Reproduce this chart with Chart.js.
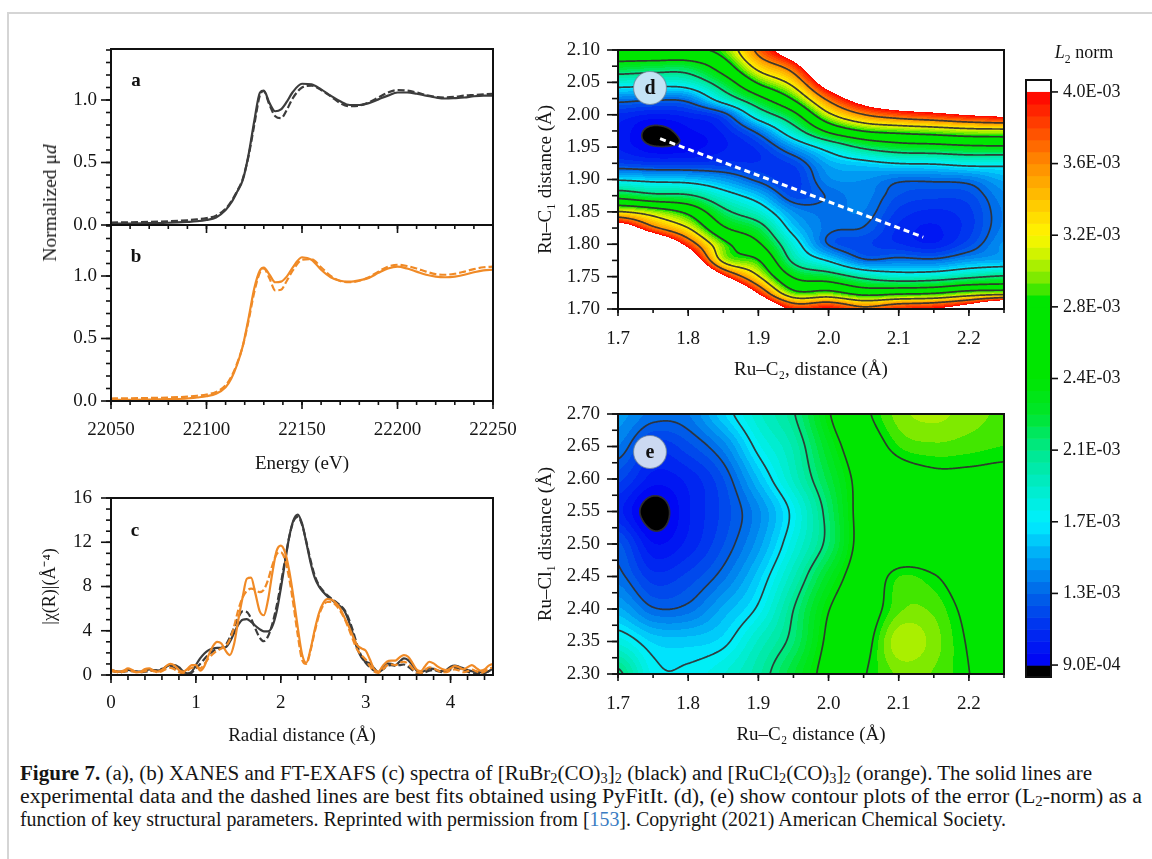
<!DOCTYPE html>
<html>
<head>
<meta charset="utf-8">
<script src="https://cdn.jsdelivr.net/npm/chart.js@4.4.1/dist/chart.umd.min.js"></script>
<style>
  html, body { margin: 0; padding: 0; background: #fff; }
  #fig { position: relative; width: 1152px; height: 859px; overflow: hidden;
         font-family: 'Liberation Serif', 'Times New Roman', serif; color: #151515; }
  #fig canvas { position: absolute; }
  .frame { position: absolute; left: 7px; top: 12px; right: -3px; bottom: -3px;
           border-left: 2px solid #d5d5d5; border-top: 2px solid #d5d5d5; }
  .ytitle { position: absolute; font-size: 19.5px; white-space: nowrap;
            transform: translate(-50%, -50%) rotate(-90deg); }
  .cbtitle { position: absolute; font-size: 18px; white-space: nowrap; transform: translate(-50%, -50%); }
  .cbtitle sub { font-size: 0.65em; }
  #caption { position: absolute; left: 20px; top: 762px; font-size: 20px; line-height: 23px; white-space: nowrap; }
  #caption > div { transform-origin: 0 0; }
  #caption sub { font-size: 0.68em; vertical-align: -0.25em; line-height: 0; }
  .ref { color: #3a7cc2; }
</style>
</head>
<body>
<div id="fig">
  <div class="frame"></div>
  <canvas id="cA" width="540" height="236" style="left:0;top:19px"></canvas>
  <canvas id="cB" width="540" height="284" style="left:0;top:195px"></canvas>
  <canvas id="cC" width="505" height="288" style="left:35px;top:463px"></canvas>
  <canvas id="cD" width="478" height="370" style="left:531px;top:15px"></canvas>
  <canvas id="cE" width="478" height="371" style="left:531px;top:379px"></canvas>
  <canvas id="cBar" width="134" height="657" style="left:1016px;top:50px"></canvas>
  <div class="ytitle" style="left:50px;top:203px">Normalized μ<i>d</i></div>
  <div class="cbtitle" style="left:1084px;top:54px"><i>L</i><sub>2</sub> norm</div>
  <div id="caption">
    <div data-w="1072"><b>Figure 7.</b> (a), (b) XANES and FT-EXAFS (c) spectra of [RuBr<sub>2</sub>(CO)<sub>3</sub>]<sub>2</sub> (black) and [RuCl<sub>2</sub>(CO)<sub>3</sub>]<sub>2</sub> (orange). The solid lines are</div>
    <div data-w="1122">experimental data and the dashed lines are best fits obtained using PyFitIt. (d), (e) show contour plots of the error (L<sub>2</sub>-norm) as a</div>
    <div data-w="986">function of key structural parameters. Reprinted with permission from [<span class="ref">153</span>]. Copyright (2021) American Chemical Society.</div>
  </div>
</div>
<script>
// XANES, panels a and b
const energy = [22050, 22060, 22070, 22080, 22090, 22095, 22100, 22105, 22110, 22113, 22116, 22119, 22122, 22125,
  22128, 22130, 22133, 22136, 22139, 22142, 22145, 22150, 22155, 22160, 22165, 22170, 22175, 22180, 22185, 22190,
  22195, 22200, 22205, 22210, 22215, 22220, 22225, 22230, 22235, 22240, 22245, 22250];
const muBrExp = [0.010, 0.012, 0.015, 0.018, 0.025, 0.030, 0.040, 0.060, 0.120, 0.180, 0.265, 0.360, 0.560, 0.830,
  1.060, 1.075, 0.975, 0.910, 0.925, 0.985, 1.060, 1.130, 1.125, 1.085, 1.035, 0.990, 0.960, 0.960, 0.975, 1.005,
  1.035, 1.060, 1.060, 1.050, 1.035, 1.020, 1.012, 1.015, 1.020, 1.030, 1.035, 1.035];
const muBrFit = [0.020, 0.022, 0.025, 0.030, 0.038, 0.045, 0.055, 0.075, 0.130, 0.190, 0.270, 0.370, 0.550, 0.800,
  1.040, 1.070, 0.960, 0.870, 0.855, 0.920, 1.010, 1.100, 1.115, 1.080, 1.030, 0.975, 0.950, 0.955, 0.980, 1.020,
  1.060, 1.080, 1.075, 1.060, 1.040, 1.025, 1.020, 1.025, 1.035, 1.040, 1.045, 1.050];
const muClExp = [0.010, 0.010, 0.012, 0.015, 0.020, 0.028, 0.038, 0.058, 0.110, 0.180, 0.290, 0.440, 0.660, 0.900,
  1.045, 1.068, 1.010, 0.950, 0.955, 0.995, 1.065, 1.150, 1.130, 1.050, 0.990, 0.962, 0.955, 0.965, 0.985, 1.025,
  1.060, 1.075, 1.060, 1.035, 1.010, 0.995, 0.990, 0.995, 1.010, 1.030, 1.045, 1.050];
const muClFit = [0.020, 0.022, 0.024, 0.028, 0.035, 0.042, 0.052, 0.072, 0.125, 0.195, 0.300, 0.440, 0.640, 0.870,
  1.030, 1.060, 0.980, 0.885, 0.890, 0.960, 1.040, 1.130, 1.135, 1.070, 1.000, 0.960, 0.950, 0.962, 0.990, 1.035,
  1.075, 1.090, 1.080, 1.060, 1.035, 1.015, 1.010, 1.018, 1.035, 1.055, 1.070, 1.075];
const energyTicks = [22050, 22100, 22150, 22200, 22250];
const muTicks = [0, 0.5, 1.0];

// FT-EXAFS, panel c
const radial = [0, 0.05, 0.1, 0.15, 0.2, 0.25, 0.3, 0.35, 0.4, 0.45, 0.5, 0.55, 0.6, 0.65, 0.7, 0.75, 0.8, 0.85,
  0.9, 0.95, 1, 1.05, 1.1, 1.15, 1.2, 1.25, 1.3, 1.35, 1.4, 1.45, 1.5, 1.55, 1.6, 1.65, 1.7, 1.75, 1.8, 1.85, 1.9,
  1.95, 2, 2.05, 2.1, 2.15, 2.2, 2.25, 2.3, 2.35, 2.4, 2.45, 2.5, 2.55, 2.6, 2.65, 2.7, 2.75, 2.8, 2.85, 2.9, 2.95,
  3, 3.05, 3.1, 3.15, 3.2, 3.25, 3.3, 3.35, 3.4, 3.45, 3.5, 3.55, 3.6, 3.65, 3.7, 3.75, 3.8, 3.85, 3.9, 3.95, 4,
  4.05, 4.1, 4.15, 4.2, 4.25, 4.3, 4.35, 4.4, 4.45, 4.5];
const ftBrExp = [0.45, 0.35, 0.30, 0.35, 0.45, 0.40, 0.30, 0.30, 0.40, 0.50,
  0.45, 0.40, 0.50, 0.75, 0.90, 0.90, 0.70, 0.35, 0.15, 0.30,
  0.90, 1.50, 1.95, 2.25, 2.40, 2.45, 2.45, 2.50, 3.00, 3.80,
  4.55, 5.00, 5.05, 4.80, 4.45, 4.15, 3.95, 3.95, 4.40, 5.70,
  7.80, 10.20, 12.50, 14.00, 14.50, 13.70, 12.00, 10.20, 8.80, 8.00,
  7.50, 7.10, 6.80, 6.50, 6.20, 5.80, 4.90, 3.70, 2.40, 1.60,
  1.20, 1.05, 0.60, 0.25, 0.70, 1.05, 1.00, 0.90, 1.20, 1.50,
  1.35, 0.90, 0.40, 0.25, 0.40, 0.60, 0.55, 0.40, 0.35, 0.45,
  0.75, 0.85, 0.75, 0.60, 0.45, 0.35, 0.30, 0.25, 0.20, 0.35, 0.60];
const ftBrFit = [0.40, 0.30, 0.25, 0.30, 0.35, 0.35, 0.30, 0.25, 0.30, 0.35,
  0.40, 0.45, 0.55, 0.70, 0.75, 0.60, 0.35, 0.10, 0.05, 0.20,
  0.60, 1.00, 1.45, 1.85, 2.15, 2.35, 2.45, 2.70, 3.40, 4.30,
  5.20, 5.75, 5.70, 5.10, 4.20, 3.40, 3.05, 3.50, 4.60, 6.20,
  8.20, 10.40, 12.50, 13.90, 14.30, 13.60, 12.10, 10.40, 9.00, 8.10,
  7.60, 7.20, 6.90, 6.60, 6.30, 5.90, 5.10, 4.00, 2.70, 1.70,
  1.10, 0.70, 0.40, 0.25, 0.50, 0.80, 0.90, 0.85, 0.90, 0.95,
  0.75, 0.45, 0.20, 0.15, 0.25, 0.40, 0.45, 0.35, 0.25, 0.30,
  0.50, 0.65, 0.60, 0.45, 0.30, 0.20, 0.15, 0.15, 0.20, 0.35, 0.50];
const ftClExp = [0.50, 0.35, 0.30, 0.40, 0.60, 0.45, 0.25, 0.30, 0.55, 0.60,
  0.40, 0.30, 0.45, 0.80, 1.00, 0.85, 0.45, 0.30, 0.55, 0.90,
  0.90, 0.40, 0.80, 1.80, 2.60, 3.00, 2.85, 2.20, 1.80, 2.80,
  5.00, 7.00, 8.70, 8.80, 7.40, 5.80, 5.40, 6.80, 9.20, 11.20,
  11.70, 11.10, 9.40, 7.00, 4.30, 1.90, 1.10, 2.30, 4.10, 5.60,
  6.50, 6.85, 6.80, 6.50, 6.00, 5.20, 4.40, 3.50, 2.70, 2.40,
  2.20, 1.40, 0.50, 0.30, 0.80, 1.20, 1.30, 1.30, 1.60, 1.80,
  1.65, 1.10, 0.50, 0.35, 0.80, 1.20, 1.05, 0.75, 0.55, 0.45,
  0.60, 0.80, 0.70, 0.50, 0.70, 0.90, 0.65, 0.40, 0.50, 0.85, 1.00];
const ftClFit = [0.35, 0.30, 0.25, 0.30, 0.40, 0.35, 0.25, 0.25, 0.35, 0.45,
  0.35, 0.25, 0.35, 0.55, 0.65, 0.50, 0.25, 0.20, 0.40, 0.65,
  0.70, 0.60, 1.00, 1.50, 1.90, 2.20, 2.40, 2.60, 3.20, 4.40,
  5.90, 7.00, 7.60, 7.80, 7.70, 7.50, 7.70, 8.60, 9.90, 10.90,
  11.10, 10.40, 8.70, 6.30, 3.60, 1.40, 1.00, 2.20, 3.90, 5.40,
  6.30, 6.60, 6.60, 6.30, 5.80, 5.10, 4.20, 3.20, 2.30, 1.80,
  1.40, 0.80, 0.30, 0.20, 0.50, 0.85, 0.95, 0.90, 1.10, 1.20,
  1.00, 0.60, 0.25, 0.20, 0.45, 0.70, 0.60, 0.40, 0.25, 0.25,
  0.40, 0.50, 0.40, 0.25, 0.35, 0.50, 0.35, 0.20, 0.30, 0.55, 0.70];
const radialTicks = [0, 1, 2, 3, 4];
const chiTicks = [0, 4, 8, 12, 16];

// L2-norm maps (units of 1e-3); rows run from the top (largest y) down
const dRuC2 = [1.70, 1.75, 1.80, 1.85, 1.90, 1.95, 2.00, 2.05, 2.10, 2.15, 2.20, 2.25];
const dRuC1 = [2.100, 2.075, 2.050, 2.025, 2.000, 1.975, 1.950, 1.925, 1.900, 1.875, 1.850, 1.825, 1.800,
  1.775, 1.750, 1.725, 1.700];
const dNorm = [
  [2.75, 2.80, 2.80, 2.95, 3.70, 4.40, 5.60, 6.00, 6.20, 6.30, 6.40, 6.50],
  [2.30, 2.25, 2.25, 2.65, 3.35, 3.82, 4.90, 5.40, 5.60, 5.70, 5.80, 5.90],
  [1.82, 1.80, 1.85, 2.25, 2.88, 3.35, 4.30, 4.80, 5.00, 5.10, 5.20, 5.30],
  [1.37, 1.33, 1.37, 1.85, 2.35, 2.88, 3.70, 4.25, 4.50, 4.55, 4.65, 4.70],
  [1.08, 1.02, 1.06, 1.22, 1.85, 2.35, 3.15, 3.60, 3.80, 3.90, 4.02, 4.10],
  [1.02, 0.87, 0.95, 1.05, 1.35, 1.90, 2.52, 2.85, 2.95, 3.02, 3.10, 3.12],
  [1.02, 0.91, 0.93, 1.02, 1.12, 1.45, 1.80, 2.12, 2.28, 2.32, 2.38, 2.40],
  [1.16, 1.12, 1.12, 1.12, 1.10, 1.18, 1.50, 1.60, 1.68, 1.70, 1.76, 1.75],
  [1.65, 1.60, 1.57, 1.45, 1.25, 1.12, 1.40, 1.42, 1.32, 1.32, 1.35, 1.50],
  [2.30, 2.15, 2.10, 1.80, 1.55, 1.20, 1.30, 1.38, 1.22, 1.18, 1.20, 1.40],
  [3.25, 3.05, 2.75, 2.15, 1.85, 1.42, 1.33, 1.35, 1.14, 1.08, 1.14, 1.36],
  [4.40, 3.70, 3.23, 2.50, 2.20, 1.58, 1.32, 1.28, 1.08, 1.02, 1.13, 1.37],
  [5.50, 4.80, 3.85, 2.95, 2.50, 1.80, 1.28, 1.18, 1.10, 1.04, 1.20, 1.43],
  [6.50, 5.80, 4.60, 3.15, 2.85, 2.00, 1.65, 1.32, 1.35, 1.33, 1.45, 1.50],
  [7.50, 6.80, 5.50, 4.10, 3.25, 2.42, 2.25, 1.98, 1.85, 1.88, 2.00, 2.10],
  [8.50, 7.80, 6.50, 5.20, 3.95, 2.95, 2.95, 2.70, 2.75, 2.80, 2.98, 3.05],
  [9.50, 8.80, 7.50, 6.30, 4.80, 3.90, 4.00, 3.70, 3.90, 4.00, 4.30, 5.00]
];
const eRuC2 = [1.70, 1.75, 1.80, 1.85, 1.90, 1.95, 2.00, 2.05, 2.10, 2.15, 2.20, 2.25];
const eRuCl1 = [2.70, 2.65, 2.60, 2.55, 2.50, 2.45, 2.40, 2.35, 2.30];
const eNorm = [
  [1.45, 1.33, 1.35, 1.60, 1.85, 2.05, 2.43, 2.78, 3.00, 3.05, 3.00, 2.95],
  [1.35, 1.12, 1.20, 1.38, 1.72, 1.95, 2.32, 2.65, 2.90, 2.95, 2.93, 2.90],
  [1.18, 1.00, 1.05, 1.22, 1.55, 1.88, 2.22, 2.55, 2.70, 2.78, 2.78, 2.76],
  [1.05, 0.84, 1.02, 1.18, 1.40, 1.72, 2.13, 2.55, 2.62, 2.65, 2.66, 2.66],
  [1.24, 0.97, 1.05, 1.22, 1.45, 1.78, 2.12, 2.55, 2.62, 2.65, 2.65, 2.64],
  [1.32, 1.12, 1.18, 1.33, 1.58, 1.92, 2.30, 2.62, 2.90, 2.85, 2.70, 2.65],
  [1.50, 1.30, 1.32, 1.50, 1.70, 2.06, 2.44, 2.68, 2.95, 2.95, 2.78, 2.68],
  [1.78, 1.60, 1.58, 1.64, 1.88, 2.12, 2.50, 2.75, 3.08, 3.00, 2.82, 2.70],
  [2.10, 1.72, 1.70, 1.80, 1.98, 2.25, 2.55, 2.82, 2.98, 2.96, 2.84, 2.72]
];
// path between the two minima in panel d
const pathC2 = [1.76, 2.135];
const pathC1 = [1.963, 1.811];

const mapXTicks = [1.7, 1.8, 1.9, 2.0, 2.1, 2.2];
const dYTicks = [1.70, 1.75, 1.80, 1.85, 1.90, 1.95, 2.00, 2.05, 2.10];
const eYTicks = [2.30, 2.35, 2.40, 2.45, 2.50, 2.55, 2.60, 2.65, 2.70];

// colour scale: evenly spaced levels and their printed labels
const normLevels = [0.9, 1.2875, 1.675, 2.0625, 2.45, 2.8375, 3.225, 3.6125, 4.0];
const normLabels = ['9.0E-04', '1.3E-03', '1.7E-03', '2.1E-03', '2.4E-03', '2.8E-03', '3.2E-03', '3.6E-03', '4.0E-03'];

const SERIF = "'Liberation Serif', 'Times New Roman', serif";
const BLACK = '#3c3c3c';
const ORANGE = '#f08a26';
Chart.defaults.font.family = SERIF;
Chart.defaults.color = '#151515';

// rainbow stops in level-index units (0 = lowest level, 8 = highest)
const rainbow = [
  [0, [0, 0, 245]], [0.5, [0, 45, 240]], [1, [0, 100, 232]], [1.5, [0, 165, 245]], [2, [0, 240, 255]],
  [2.5, [0, 236, 200]], [3, [0, 232, 140]], [3.5, [0, 230, 45]], [4, [0, 230, 0]], [5.1, [0, 230, 0]],
  [5.35, [110, 232, 0]], [5.7, [200, 242, 0]], [6, [255, 248, 0]], [6.5, [255, 195, 0]], [7, [255, 140, 0]],
  [7.5, [255, 72, 0]], [8, [255, 0, 0]]
];
function rainbowAt(t) {
  for (let k = 1; k < rainbow.length; k++) {
    if (t <= rainbow[k][0]) {
      const [t0, c0] = rainbow[k - 1], [t1, c1] = rainbow[k];
      const f = (t - t0) / (t1 - t0);
      return c0.map((c, i) => Math.round(c + f * (c1[i] - c)));
    }
  }
  return rainbow[rainbow.length - 1][1];
}
const BANDS = 6;
function normColor(v) {
  const t = (v - normLevels[0]) / (normLevels[1] - normLevels[0]);
  if (t < 0) return [0, 0, 0];
  if (t > normLevels.length - 1) return [255, 255, 255];
  return rainbowAt(Math.min(Math.floor(t * BANDS) / BANDS + 0.5 / BANDS, 7.99));
}

// smooth surface through the grid nodes (Catmull-Rom)
function cr(p0, p1, p2, p3, t) {
  return p1 + 0.5 * t * (p2 - p0 + t * (2 * p0 - 5 * p1 + 4 * p2 - p3 + t * (3 * (p1 - p2) + p3 - p0)));
}
function surface(m, xv, yv) {
  const nx = m.xs.length, ny = m.ys.length;
  const fx = (xv - m.xs[0]) / (m.xs[1] - m.xs[0]);
  const fy = (m.ys[0] - yv) / (m.ys[0] - m.ys[1]);
  const i = Math.max(0, Math.min(nx - 2, Math.floor(fx)));
  const j = Math.max(0, Math.min(ny - 2, Math.floor(fy)));
  const tx = fx - i, ty = fy - j;
  const at = (r, c) => m.z[Math.max(0, Math.min(ny - 1, r))][Math.max(0, Math.min(nx - 1, c))];
  const row = r => cr(at(r, i - 1), at(r, i), at(r, i + 1), at(r, i + 2), tx);
  return cr(row(j - 1), row(j), row(j + 1), row(j + 2), ty);
}

function isoPath(f, W, H, lev, L, T) {
  const p = new Path2D();
  const seg = (a, b) => { p.moveTo(a[0], a[1]); p.lineTo(b[0], b[1]); };
  for (let j = 0; j < H - 1; j++) {
    for (let i = 0; i < W - 1; i++) {
      const a = f[j * W + i], b = f[j * W + i + 1], c = f[(j + 1) * W + i + 1], d = f[(j + 1) * W + i];
      const idx = (a > lev ? 8 : 0) | (b > lev ? 4 : 0) | (c > lev ? 2 : 0) | (d > lev ? 1 : 0);
      if (idx === 0 || idx === 15) continue;
      const x0 = L + i + 0.5, y0 = T + j + 0.5;
      const top = () => [x0 + (lev - a) / (b - a), y0];
      const right = () => [x0 + 1, y0 + (lev - b) / (c - b)];
      const bottom = () => [x0 + (lev - d) / (c - d), y0 + 1];
      const left = () => [x0, y0 + (lev - a) / (d - a)];
      switch (idx) {
        case 1: case 14: seg(left(), bottom()); break;
        case 2: case 13: seg(bottom(), right()); break;
        case 3: case 12: seg(left(), right()); break;
        case 4: case 11: seg(top(), right()); break;
        case 5: seg(left(), top()); seg(bottom(), right()); break;
        case 6: case 9: seg(top(), bottom()); break;
        case 7: case 8: seg(left(), top()); break;
        case 10: seg(left(), bottom()); seg(top(), right()); break;
      }
    }
  }
  return p;
}

// filled contour map with iso-lines, drawn under the datasets
const normMap = {
  id: 'normMap',
  beforeDatasetsDraw(chart, args, m) {
    if (!m.z) return;
    const {ctx, chartArea: a, scales: {x, y}} = chart;
    const L = Math.round(a.left), T = Math.round(a.top);
    const W = Math.round(a.right) - L, H = Math.round(a.bottom) - T;
    const f = new Float32Array(W * H);
    for (let j = 0; j < H; j++) {
      const yv = y.getValueForPixel(T + j + 0.5);
      for (let i = 0; i < W; i++) f[j * W + i] = surface(m, x.getValueForPixel(L + i + 0.5), yv);
    }
    const off = document.createElement('canvas');
    off.width = W; off.height = H;
    const octx = off.getContext('2d');
    const img = octx.createImageData(W, H);
    for (let k = 0; k < W * H; k++) {
      const c = normColor(f[k]);
      img.data[4 * k] = c[0]; img.data[4 * k + 1] = c[1]; img.data[4 * k + 2] = c[2]; img.data[4 * k + 3] = 255;
    }
    octx.putImageData(img, 0, 0);
    ctx.drawImage(off, L, T);
    ctx.save();
    ctx.beginPath(); ctx.rect(L, T, W, H); ctx.clip();
    ctx.strokeStyle = 'rgba(48,48,48,0.92)';
    ctx.lineWidth = 1.7; ctx.lineCap = 'round';
    normLevels.slice(0, -1).forEach(lev => ctx.stroke(isoPath(f, W, H, lev, L, T)));
    ctx.restore();
  }
};

// stepped colour bar
const normBar = {
  id: 'normBar',
  beforeDatasetsDraw(chart, args, o) {
    if (!o.show) return;
    const {ctx, chartArea: a, scales: {y}} = chart;
    const top = normLevels.length - 1;
    ctx.save();
    ctx.fillStyle = '#000';
    ctx.fillRect(a.left, y.getPixelForValue(0), a.right - a.left, a.bottom - y.getPixelForValue(0));
    for (let k = 0; k < top * BANDS; k++) {
      const c = rainbowAt((k + 0.5) / BANDS);
      const y0 = y.getPixelForValue(k / BANDS), y1 = y.getPixelForValue((k + 1) / BANDS);
      ctx.fillStyle = `rgb(${c[0]},${c[1]},${c[2]})`;
      ctx.fillRect(a.left, y1, a.right - a.left, y0 - y1 + 0.6);
    }
    ctx.restore();
  }
};

const frameBox = {
  id: 'frameBox',
  afterDatasetsDraw(chart) {
    const {ctx, chartArea: a} = chart;
    ctx.save();
    ctx.strokeStyle = '#111'; ctx.lineWidth = 2;
    ctx.strokeRect(a.left, a.top, a.right - a.left, a.bottom - a.top);
    ctx.restore();
  }
};

// major and minor tick marks drawn outside the frame
const tickMarks = {
  id: 'tickMarks',
  afterDraw(chart, args, opts) {
    const {ctx, chartArea: a} = chart;
    ctx.save();
    ctx.strokeStyle = '#111'; ctx.lineWidth = 1.6;
    for (const m of opts.marks || []) {
      const s = chart.scales[m.axis];
      for (let k = 0; ; k++) {
        const v = m.start + k * m.step;
        if (v > s.max + 1e-9) break;
        const p = s.getPixelForValue(v);
        ctx.beginPath();
        if (m.side === 'bottom') { ctx.moveTo(p, a.bottom); ctx.lineTo(p, a.bottom + m.len); }
        else if (m.side === 'left') { ctx.moveTo(a.left, p); ctx.lineTo(a.left - m.len, p); }
        else { ctx.moveTo(a.right, p); ctx.lineTo(a.right + m.len, p); }
        ctx.stroke();
      }
    }
    ctx.restore();
  }
};

const panelTag = {
  id: 'panelTag',
  afterDatasetsDraw(chart, args, o) {
    if (!o.text) return;
    const {ctx, chartArea: a} = chart;
    const x = a.left + o.dx, y = a.top + o.dy;
    ctx.save();
    if (o.disc) {
      ctx.beginPath(); ctx.arc(x, y, o.r, 0, Math.PI * 2);
      ctx.fillStyle = o.disc; ctx.fill();
      ctx.lineWidth = 1.2; ctx.strokeStyle = 'rgba(110,130,150,0.7)'; ctx.stroke();
    }
    ctx.fillStyle = '#111';
    ctx.font = `bold ${o.size}px ${SERIF}`;
    ctx.textAlign = 'center'; ctx.textBaseline = 'middle';
    ctx.fillText(o.text, x, y + 1);
    ctx.restore();
  }
};

const fixW = w => s => { s.width = w; };
const fixH = h => s => { s.height = h; };
const setTicks = vals => s => { s.ticks = vals.map(v => ({value: v})); };
const noGrid = {display: false, drawTicks: false};
const noBorder = {display: false};

function curve(xs, ys, color, dashed) {
  return {
    data: xs.map((x, i) => ({x, y: ys[i]})),
    borderColor: color, borderWidth: 2.2, borderDash: dashed ? [7, 3] : [],
    pointRadius: 0, cubicInterpolationMode: 'monotone', fill: false
  };
}

function baseOptions(padding, extraPlugins) {
  return {
    responsive: false, animation: false, events: [],
    layout: {padding},
    plugins: Object.assign({legend: {display: false}, tooltip: {enabled: false}}, extraPlugins)
  };
}

const xanesMarks = [
  {axis: 'x', side: 'bottom', start: 22050, step: 50, len: 8},
  {axis: 'x', side: 'bottom', start: 22050, step: 10, len: 4},
  {axis: 'y', side: 'left', start: 0, step: 0.5, len: 10},
  {axis: 'y', side: 'left', start: 0, step: 0.1, len: 5}];

// panel a
new Chart('cA', {
  type: 'line',
  data: {datasets: [curve(energy, muBrExp, BLACK, false), curve(energy, muBrFit, BLACK, true)]},
  options: Object.assign(baseOptions({top: 30, right: 47, left: 0, bottom: 0}, {
    tickMarks: {marks: xanesMarks},
    panelTag: {text: 'a', dx: 25, dy: 31, size: 19}
  }), {
    scales: {
      x: {type: 'linear', min: 22050, max: 22250, afterBuildTicks: setTicks(energyTicks),
          ticks: {display: false}, grid: noGrid, border: noBorder, afterFit: fixH(30)},
      y: {min: 0, max: 1.408, afterBuildTicks: setTicks(muTicks),
          ticks: {font: {size: 19}, padding: 14, callback: v => v.toFixed(1)},
          grid: noGrid, border: noBorder, afterFit: fixW(111)}
    }
  }),
  plugins: [frameBox, tickMarks, panelTag]
});

// panel b
new Chart('cB', {
  type: 'line',
  data: {datasets: [curve(energy, muClExp, ORANGE, false), curve(energy, muClFit, ORANGE, true)]},
  options: Object.assign(baseOptions({top: 30, right: 47, left: 0, bottom: 0}, {
    tickMarks: {marks: xanesMarks},
    panelTag: {text: 'b', dx: 25, dy: 31, size: 19}
  }), {
    scales: {
      x: {type: 'linear', min: 22050, max: 22250, afterBuildTicks: setTicks(energyTicks),
          ticks: {font: {size: 19}, padding: 18, maxRotation: 0, callback: v => String(v)},
          title: {display: true, text: 'Energy (eV)', font: {size: 19}, padding: {top: 0, bottom: 4}},
          grid: noGrid, border: noBorder, afterFit: fixH(78)},
      y: {min: 0, max: 1.408, afterBuildTicks: setTicks(muTicks),
          ticks: {font: {size: 19}, padding: 14, callback: v => v.toFixed(1)},
          grid: noGrid, border: noBorder, afterFit: fixW(111)}
    }
  }),
  plugins: [frameBox, tickMarks, panelTag]
});

// panel c
new Chart('cC', {
  type: 'line',
  data: {datasets: [
    curve(radial, ftClExp, ORANGE, false), curve(radial, ftClFit, ORANGE, true),
    curve(radial, ftBrExp, BLACK, false), curve(radial, ftBrFit, BLACK, true)]},
  options: Object.assign(baseOptions({top: 35, right: 47, left: 0, bottom: 0}, {
    tickMarks: {marks: [
      {axis: 'x', side: 'bottom', start: 0, step: 1, len: 8},
      {axis: 'x', side: 'bottom', start: 0, step: 0.2, len: 5},
      {axis: 'y', side: 'left', start: 0, step: 4, len: 10},
      {axis: 'y', side: 'left', start: 0, step: 1, len: 5}]},
    panelTag: {text: 'c', dx: 24, dy: 32, size: 19}
  }), {
    scales: {
      x: {type: 'linear', min: 0, max: 4.5, afterBuildTicks: setTicks(radialTicks),
          ticks: {font: {size: 19}, padding: 17, maxRotation: 0, callback: v => String(v)},
          title: {display: true, text: 'Radial distance (Å)', font: {size: 19}, padding: {top: 0, bottom: 4}},
          grid: noGrid, border: noBorder, afterFit: fixH(76)},
      y: {min: 0, max: 16, afterBuildTicks: setTicks(chiTicks),
          ticks: {font: {size: 19}, padding: 19, callback: v => String(v)},
          title: {display: true, text: '|χ(R)|(Å⁻⁴)', font: {size: 18}, padding: {top: 4, bottom: 0}},
          grid: noGrid, border: noBorder, afterFit: fixW(76)}
    }
  }),
  plugins: [frameBox, tickMarks, panelTag]
});

function mapChart(id, xs, ys, z, yMin, yMax, yTicks, xTitle, yTitle, tag, disc, extra) {
  return new Chart(id, {
    type: 'scatter',
    data: {datasets: extra},
    options: Object.assign(baseOptions({top: 35, right: 5, left: 0, bottom: 0}, {
      normMap: {xs, ys, z},
      tickMarks: {marks: [
        {axis: 'x', side: 'bottom', start: 1.7, step: 0.1, len: 7},
        {axis: 'x', side: 'bottom', start: 1.7, step: 0.05, len: 4},
        {axis: 'y', side: 'left', start: yMin, step: 0.05, len: 11},
        {axis: 'y', side: 'left', start: yMin, step: 0.025, len: 6}]},
      panelTag: {text: tag, dx: 32, dy: 38, size: 20, r: 16.5, disc}
    }), {
      scales: {
        x: {type: 'linear', min: 1.7, max: 2.25, afterBuildTicks: setTicks(mapXTicks),
            ticks: {font: {size: 19}, padding: 19, maxRotation: 0, callback: v => v.toFixed(1)},
            title: {display: true, text: xTitle, font: {size: 19}, padding: {top: 0, bottom: 4}},
            grid: noGrid, border: noBorder, afterFit: fixH(76)},
        y: {type: 'linear', min: yMin, max: yMax, afterBuildTicks: setTicks(yTicks),
            ticks: {font: {size: 19}, padding: 18, callback: v => v.toFixed(2)},
            title: {display: true, text: yTitle, font: {size: 19}, padding: {top: 4, bottom: 0}},
            grid: noGrid, border: noBorder, afterFit: fixW(87)}
      }
    }),
    plugins: [normMap, frameBox, tickMarks, panelTag]
  });
}

// panel d, with the path joining the two minima
mapChart('cD', dRuC2, dRuC1, dNorm, 1.70, 2.10, dYTicks, 'Ru–C₂, distance (Å)', 'Ru–C₁ distance (Å)', 'd', '#c3e3f5', [{
  data: pathC2.map((x, i) => ({x, y: pathC1[i]})), showLine: true, borderColor: '#ffffff',
  borderWidth: 3, borderDash: [6, 4], pointRadius: 0
}]);
// panel e
mapChart('cE', eRuC2, eRuCl1, eNorm, 2.30, 2.70, eYTicks, 'Ru–C₂ distance (Å)', 'Ru–Cl₁ distance (Å)', 'e', '#cbd9f2', []);

// colour bar
new Chart('cBar', {
  type: 'scatter',
  data: {datasets: []},
  options: Object.assign(baseOptions({top: 30, right: 0, left: 10, bottom: 30}, {
    normBar: {show: true},
    tickMarks: {marks: [{axis: 'y', side: 'right', start: 0, step: 1, len: 7}]}
  }), {
    scales: {
      x: {type: 'linear', display: false, min: 0, max: 1},
      y: {type: 'linear', position: 'right', min: -0.1667, max: 8.1667,
          afterBuildTicks: setTicks(normLabels.map((s, i) => i)),
          ticks: {font: {size: 18}, padding: 12, callback: v => normLabels[Math.round(v)]},
          grid: noGrid, border: noBorder, afterFit: fixW(99)}
    }
  }),
  plugins: [normBar, frameBox, tickMarks]
});

// stretch each caption line to its measured width
for (const line of document.querySelectorAll('#caption > div')) {
  const r = document.createRange();
  r.selectNodeContents(line);
  line.style.transform = `scaleX(${Number(line.dataset.w) / r.getBoundingClientRect().width})`;
}
</script>
</body>
</html>
